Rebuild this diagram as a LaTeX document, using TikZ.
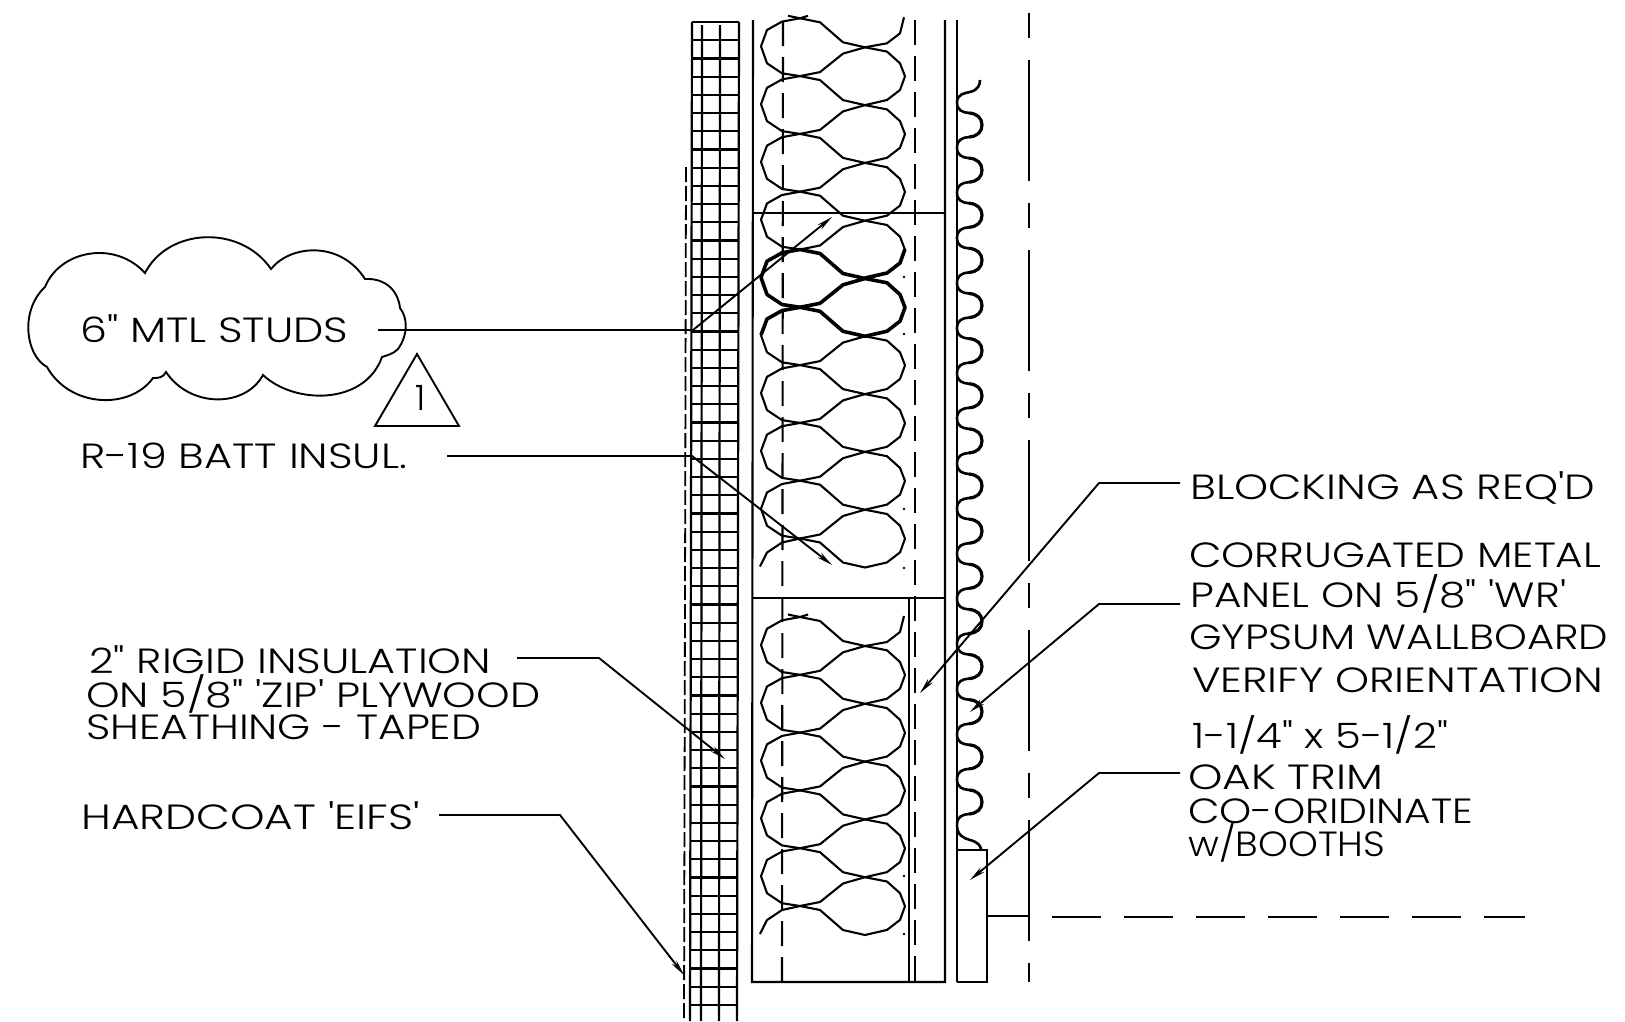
\documentclass[tikz,border=0pt]{standalone}
\usepackage{graphicx}
\usepackage{fontspec}
\usetikzlibrary{arrows.meta}
\newfontfamily\lettering{Poppins}[UprightFont=* Light]
\newcommand{\fitted}[2]{\resizebox{#1pt}{\height}{#2}}
\tikzset{
  wall/.style={line width=2.1pt},
  furring/.style={line width=2.1pt,dash pattern=on 25pt off 11pt},
  gridline/.style={line width=2.2pt},
  batt/.style={line width=2.1pt,line join=round},
  leader/.style={line width=1.9pt,-{Stealth[length=16pt,width=6pt]}},
  note/.style={anchor=west,inner sep=0pt,text height=25pt,text depth=0pt,
    font=\lettering\fontsize{35}{35}\selectfont},
  battleft/.pic={\draw[batt] (0,0) -- (-18,3.3) -- (-33,11.7) -- (-39,28) -- (-33,45) -- (-18,55) -- (0,57.8);},
  battright/.pic={\draw[batt] (65,29) -- (87,33.3) -- (100,45) -- (105,58) -- (100,71.7) -- (87,81.7) -- (65,86.8);},
  battdown/.pic={\draw[batt] (0,0) -- (20,4) -- (43,24) -- (65,29);},
  battup/.pic={\draw[batt] (0,0) -- (20,-4) -- (43,-22.5) -- (65,-28.8);},
  battcap/.pic={\draw[batt] (-12,-2.5) -- (0,0) (0,0) -- (8,-2.5) (65,29) -- (87,25) -- (100,15) -- (104,-1);},
  batttail/.pic={\draw[batt] (0,0) -- (-18,4) -- (-33,14) -- (-40,28);},
  corrbump/.pic={
    \draw[line width=2.6pt] (957,-22.6) .. controls (957,-15) and (962,-12.5) .. (969,-12);
    \draw[line width=3.2pt] (969,-12) .. controls (977,-11.5) and (982,-7) .. (982,0) .. controls (982,7) and (977,11.5) .. (969,12);
    \draw[line width=2.6pt] (969,12) .. controls (962,12.5) and (957,15) .. (957,22.6);
  },
}
\begin{document}
\begin{tikzpicture}[x=1pt,y=-1pt]
\useasboundingbox (0,0) rectangle (1625,1021);

% sheathing grid and eifs
\draw[gridline] (692,22) -- (690,1021);
\draw[gridline] (702,25) -- (701,1021);
\draw[gridline] (720,25) -- (719,1021);
\draw[gridline] (739,22) -- (737,1021);
\foreach \k in {0,...,54} {
  \pgfmathsetmacro\ypos{22+18.2*\k}
  \draw[gridline] ({692-0.002*\ypos},\ypos) -- ({739-0.002*\ypos},\ypos);
}
\draw[line width=1.8pt,dash pattern=on 15pt off 4pt] (686,167) -- (684,1021);

% studs
\draw[wall] (753,20) -- (752,982) -- (945,982) -- (945,20);
\draw[wall] (754,213) -- (945,213);
\draw[wall] (752,598) -- (945,598);
\draw[wall] (909,598) -- (909,982);
\draw[furring] (783,21) -- (782,982);
\draw[furring] (915,20) -- (915,982);

% batts
\foreach \ytop/\kmax in {18.3/8,617/4} {
  \pic at (800,\ytop) {battcap};
  \foreach \k in {0,...,\kmax} {
    \pgfmathsetmacro\ypos{\ytop+57.8*\k}
    \pgfmathsetmacro\ynext{\ytop+57.8*(\k+1)}
    \pic at (800,\ypos) {battleft};
    \pic at (800,\ypos) {battright};
    \pic at (800,\ypos) {battdown};
    \pic at (800,\ynext) {battup};
  }
  \pgfmathsetmacro\ylast{\ytop+57.8*(\kmax+1)}
  \pic at (800,\ylast) {battdown};
  \pic at (800,\ylast) {batttail};
}
\begin{scope}[batt/.style={line width=3.6pt,line join=round}]
\pic at (800,249.5) {battleft};
\pic at (800,249.5) {battright};
\pic at (800,249.5) {battdown};
\pic at (800,307.3) {battup};
\pic at (800,307.3) {battdown};
\draw[batt] (800,307.3) -- (782,310.6) -- (767,319) -- (761,335);
\draw[batt] (905,249) -- (900,263) -- (887,273) -- (865,278);
\end{scope}
\foreach \ypos in {277,334,509,568,876,934} {
  \fill (904,\ypos) circle (1.3pt);
}

% corrugated panel and trim
\draw[wall] (957,20) -- (957,982);
\draw[wall] (957,850) -- (987,850) -- (987,982) -- (957,982);
\draw[line width=2.6pt] (980,80) .. controls (980,85) and (978,90) .. (970,92) .. controls (965,93) and (957,94) .. (957,102.4);
\foreach \k in {0,...,15} {
  \pgfmathsetmacro\ypos{125+45.13*\k}
  \pic at (0,\ypos) {corrbump};
}
\draw[line width=2.6pt] (957,825) .. controls (957,835) and (963,838) .. (970,840) .. controls (978,842) and (981,846) .. (981,850);
\draw[line width=2.2pt,dash pattern=on 25pt off 22pt on 121pt off 22pt] (1029,13) -- (1029,982);
\draw[wall] (987,916) -- (1029,916);
\draw[wall,dash pattern=on 48.5pt off 23.5pt] (1052,917) -- (1525,917);

% cloud and delta
\draw[line width=1.9pt] (145,273) .. controls (168,228) and (240,224) .. (271,269)
  .. controls (290,245) and (340,240) .. (365,279)
  .. controls (385,278) and (398,290) .. (400,308)
  .. controls (408,318) and (408,335) .. (398,349)
  .. controls (393,354) and (388,355) .. (382,357)
  .. controls (365,405) and (295,405) .. (263,375)
  .. controls (245,408) and (190,408) .. (166,372)
  .. controls (163,378) and (158,378) .. (153,378)
  .. controls (130,410) and (70,408) .. (47,367)
  .. controls (25,355) and (20,310) .. (45,287)
  .. controls (60,250) and (115,240) .. (145,273) -- cycle;
\draw[line width=1.9pt] (417,354) -- (375,426) -- (459,426) -- cycle;
\node[inner sep=0pt,font=\lettering\fontsize{35}{35}\selectfont] (rev) at (421,398) {1};

% notes
\node[note] (studs) at (80,330) {\fitted{268}{6" MTL STUDS}};
\node[note] (battins) at (80,456) {\fitted{327}{R-19 BATT INSUL.}};
\node[note] (rigida) at (89,661) {\fitted{402}{2" RIGID INSULATION}};
\node[note] (rigidb) at (86,695) {\fitted{454}{ON 5/8" 'ZIP' PLYWOOD}};
\node[note] (rigidc) at (86,727) {\fitted{395}{SHEATHING - TAPED}};
\node[note] (eifs) at (81,817) {\fitted{339}{HARDCOAT 'EIFS'}};
\node[note] (blocking) at (1190,487) {\fitted{405}{BLOCKING AS REQ'D}};
\node[note] (corra) at (1189,555) {\fitted{412}{CORRUGATED METAL}};
\node[note] (corrb) at (1190,595) {\fitted{376}{PANEL ON 5/8" 'WR'}};
\node[note] (corrc) at (1189,637) {\fitted{419}{GYPSUM WALLBOARD}};
\node[note] (corrd) at (1192,680) {\fitted{411}{VERIFY ORIENTATION}};
\node[note] (trima) at (1192,736) {\fitted{256}{1-1/4" x 5-1/2"}};
\node[note] (trimb) at (1188,777) {\fitted{195}{OAK TRIM}};
\node[note] (trimc) at (1188,811) {\fitted{285}{CO-ORIDINATE}};
\node[note] (trimd) at (1188,844) {\fitted{197}{w/BOOTHS}};

% leaders
\coordinate (studsfrom) at (378,330);
\coordinate (studsbend) at (693,330);
\coordinate (studstip) at (832,217);
\coordinate (battfrom) at (447,456);
\coordinate (battbend) at (692,456);
\coordinate (batttip) at (832,565);
\coordinate (rigidfrom) at (517,658);
\coordinate (rigidbend) at (599,658);
\coordinate (rigidtip) at (725,759);
\coordinate (eifsfrom) at (439,815);
\coordinate (eifsbend) at (560,815);
\coordinate (eifstip) at (684,975);
\coordinate (blockfrom) at (1180,483);
\coordinate (blockbend) at (1099,483);
\coordinate (blocktip) at (920,693);
\coordinate (corrfrom) at (1180,604);
\coordinate (corrbend) at (1099,604);
\coordinate (corrtip) at (970,712);
\coordinate (trimfrom) at (1180,773);
\coordinate (trimbend) at (1099,773);
\coordinate (trimtip) at (970,880);
\draw[leader] (studsfrom) -- (studsbend) -- (studstip);
\draw[leader] (battfrom) -- (battbend) -- (batttip);
\draw[leader] (rigidfrom) -- (rigidbend) -- (rigidtip);
\draw[leader] (eifsfrom) -- (eifsbend) -- (eifstip);
\draw[leader] (blockfrom) -- (blockbend) -- (blocktip);
\draw[leader] (corrfrom) -- (corrbend) -- (corrtip);
\draw[leader] (trimfrom) -- (trimbend) -- (trimtip);
\end{tikzpicture}
\end{document}
